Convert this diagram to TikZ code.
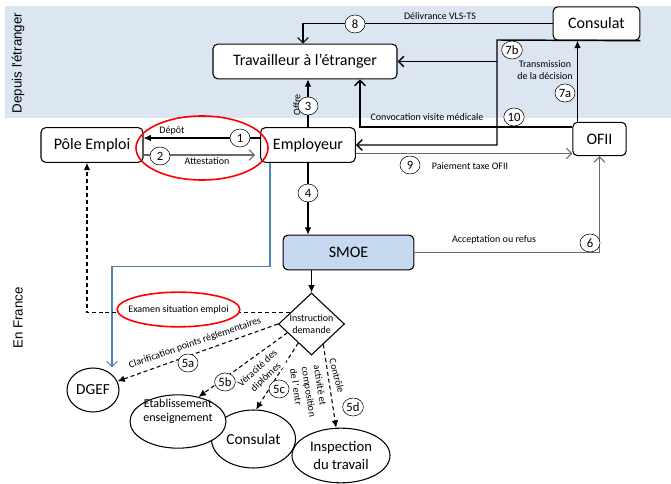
\documentclass[tikz,border=0pt]{standalone}
\usepackage{fontspec}
\setmainfont{Carlito}
\newfontfamily\arialfont{Liberation Sans}
\usepackage{tikz}
\usetikzlibrary{shapes.geometric,arrows.meta}
\definecolor{bandblue}{RGB}{220,230,242}
\definecolor{smoeblue}{RGB}{198,217,241}
\definecolor{lineblue}{RGB}{79,129,189}
\definecolor{linegray}{RGB}{105,105,105}

\begin{document}
\begin{tikzpicture}[x=0.75pt,y=-0.75pt,thick,
    box node/.style={draw,fill=white,rounded corners=3.5pt,inner sep=0pt,font=\fontsize{12}{14}\selectfont},
    oval node/.style={draw,fill=white,ellipse,inner sep=0pt,align=center},
    num node/.style={draw,fill=white,ellipse,thin,inner sep=0.6pt,minimum width=15pt,minimum height=13.5pt,font=\fontsize{9.5}{10}\selectfont},
    small text/.style={font=\fontsize{7.5}{9}\selectfont,inner sep=0pt,align=center},
    red ring/.style={draw=red,ellipse,line width=1.2pt,inner sep=0pt},
    dashed line/.style={dash pattern=on 3pt off 2.2pt},
    filled/.style={-{Latex[length=5.5pt,width=5pt]}},
    open/.style={-{Straight Barb[length=4pt,width=8pt]}}]

\useasboundingbox (0,0) rectangle (671,484);
\fill[bandblue] (5,6) rectangle (671,118);
\node at (18,63) [rotate=90,font=\arialfont\fontsize{10}{12}\selectfont] (zone1) {Depuis l'étranger};
\node at (18,318) [rotate=90,font=\arialfont\fontsize{10}{12}\selectfont] (zone2) {En France};

\node at (305,61.5) [box node,minimum width=138pt,minimum height=26pt] (trav) {Travailleur à l’étranger};
\node at (596.5,23.5) [box node,minimum width=65pt,minimum height=25pt] (cons) {Consulat};
\node at (308,145) [box node,minimum width=71pt,minimum height=26pt] (empl) {Employeur};
\node at (92,145) [box node,minimum width=76.5pt,minimum height=26pt] (pole) {Pôle Emploi};
\node at (599.5,139) [box node,minimum width=40pt,minimum height=25pt] (ofii) {OFII};
\node at (348.5,252.5) [box node,fill=smoeblue,minimum width=98pt,minimum height=26pt] (smoe) {SMOE};
\node at (311.5,324) [diamond,draw,fill=white,inner sep=0pt,minimum width=49.5pt,minimum height=46.5pt,
    label={[small text]center:Instruction\\demande}] (instr) {};

\node at (93,390) [oval node,minimum width=39pt,minimum height=33pt,font=\fontsize{11.5}{13}\selectfont] (dgef) {DGEF};
\node at (253.5,439) [oval node,minimum width=63pt,minimum height=43.5pt,font=\fontsize{11.5}{13}\selectfont] (consb) {Consulat};
\node at (178,421.5) [oval node,minimum width=72pt,minimum height=40pt,
    label={[font=\fontsize{9}{10.5}\selectfont,align=center,yshift=7.5pt]center:Etablissement\\enseignement}] (etab) {};
\node at (341,455.5) [oval node,minimum width=73.5pt,minimum height=41pt,font=\fontsize{11}{13.5}\selectfont] (insp) {Inspection\\du travail};

\coordinate (c7b) at (497,40);

\draw[filled] ([yshift=5.25pt]empl.west) -- ([yshift=5.25pt]empl.west -| pole.east);
\draw[open,linegray,shorten >=3.75pt] ([yshift=-7.5pt]pole.east) -- ([yshift=-7.5pt]pole.east -| empl.west);
\draw[filled] (empl.north) -- (empl.north |- trav.south);
\draw[open] (cons.west) -| ([xshift=-1.5pt]trav.north);
\draw[filled] ([xshift=-16.5pt]ofii.north) -- ([xshift=-16.5pt]ofii.north |- cons.south);
\draw[open,line width=1.1pt] (cons.south east) -- (c7b) |- (empl.east);
\draw[open,line width=1.1pt] (c7b |- trav.east) -- (trav.east);
\draw[open,line width=1.1pt] ([yshift=9pt]ofii.west) -| ([xshift=41.25pt]trav.south);
\draw[open,linegray] ([yshift=-6.4pt]empl.east) -- ([yshift=-6.4pt]empl.east -| ofii.west);
\draw[filled] (empl.south) -- (empl.south |- smoe.north);
\draw[filled] (instr.north |- smoe.south) -- (instr.north);
\draw[open,linegray] (smoe.east) -| (ofii.south);
\draw[open,lineblue] ([xshift=-28.5pt]empl.south) -- ++(0,104) -| ([xshift=14.25pt]dgef.north);

\draw[dashed line,filled] (instr.153) -| ([xshift=-3.75pt]pole.south);
\draw[dashed line,filled] (instr.west) -- (dgef);
\draw[dashed line,filled] (instr.200) -- (etab.50);
\draw[dashed line,filled] (instr.235) -- (consb.85);
\draw[dashed line,filled] (instr.300) -- (insp.100);

\node at (202,148) [red ring,minimum width=99pt,minimum height=48pt] (ring) {};
\node at (178.5,309.5) [red ring,fill=white,minimum width=92pt,minimum height=26pt,
    label={[small text]center:Examen situation emploi}] (exam) {};

\node at (172,131) [small text] (lDepot) {Dépôt};
\node at (207,161) [small text] (lAttest) {Attestation};
\node at (297,105) [small text,rotate=90] (lOffre) {Offre};
\node at (440,16) [small text] (lVls) {Délivrance VLS-TS};
\node at (545,70) [small text] (lTrans) {Transmission\\de la décision};
\node at (427,117) [small text] (lConv) {Convocation visite médicale};
\node at (470,166) [small text] (lPaie) {Paiement taxe OFII};
\node at (494,240) [small text] (lAccept) {Acceptation ou refus};
\node at (195,343) [small text,rotate=19] (lClar) {Clarification points réglementaires};
\node at (262,373) [small text,rotate=43,fill=white] (lVer) {Véracité des\\diplômes};
\node at (309,392) [small text,rotate=-81,align=left] (lCompo) {activité et\\composition\\de l' entr};
\node at (337,376) [small text,rotate=-75] (lCtrl) {Contrôle};

\node at (240,138) [num node] (n1) {1};
\node at (160,156) [num node] (n2) {2};
\node at (308,106) [num node] (n3) {3};
\node at (308,193) [num node] (n4) {4};
\node at (188,363) [num node] (n5a) {5a};
\node at (225,382) [num node] (n5b) {5b};
\node at (279,389) [num node] (n5c) {5c};
\node at (353,407) [num node] (n5d) {5d};
\node at (590,243) [num node] (n6) {6};
\node at (565,93) [num node] (n7a) {7a};
\node at (512,50) [num node] (n7b) {7b};
\node at (355,24) [num node] (n8) {8};
\node at (410,165) [num node] (n9) {9};
\node at (514,117) [num node] (n10) {10};
\end{tikzpicture}
\end{document}
